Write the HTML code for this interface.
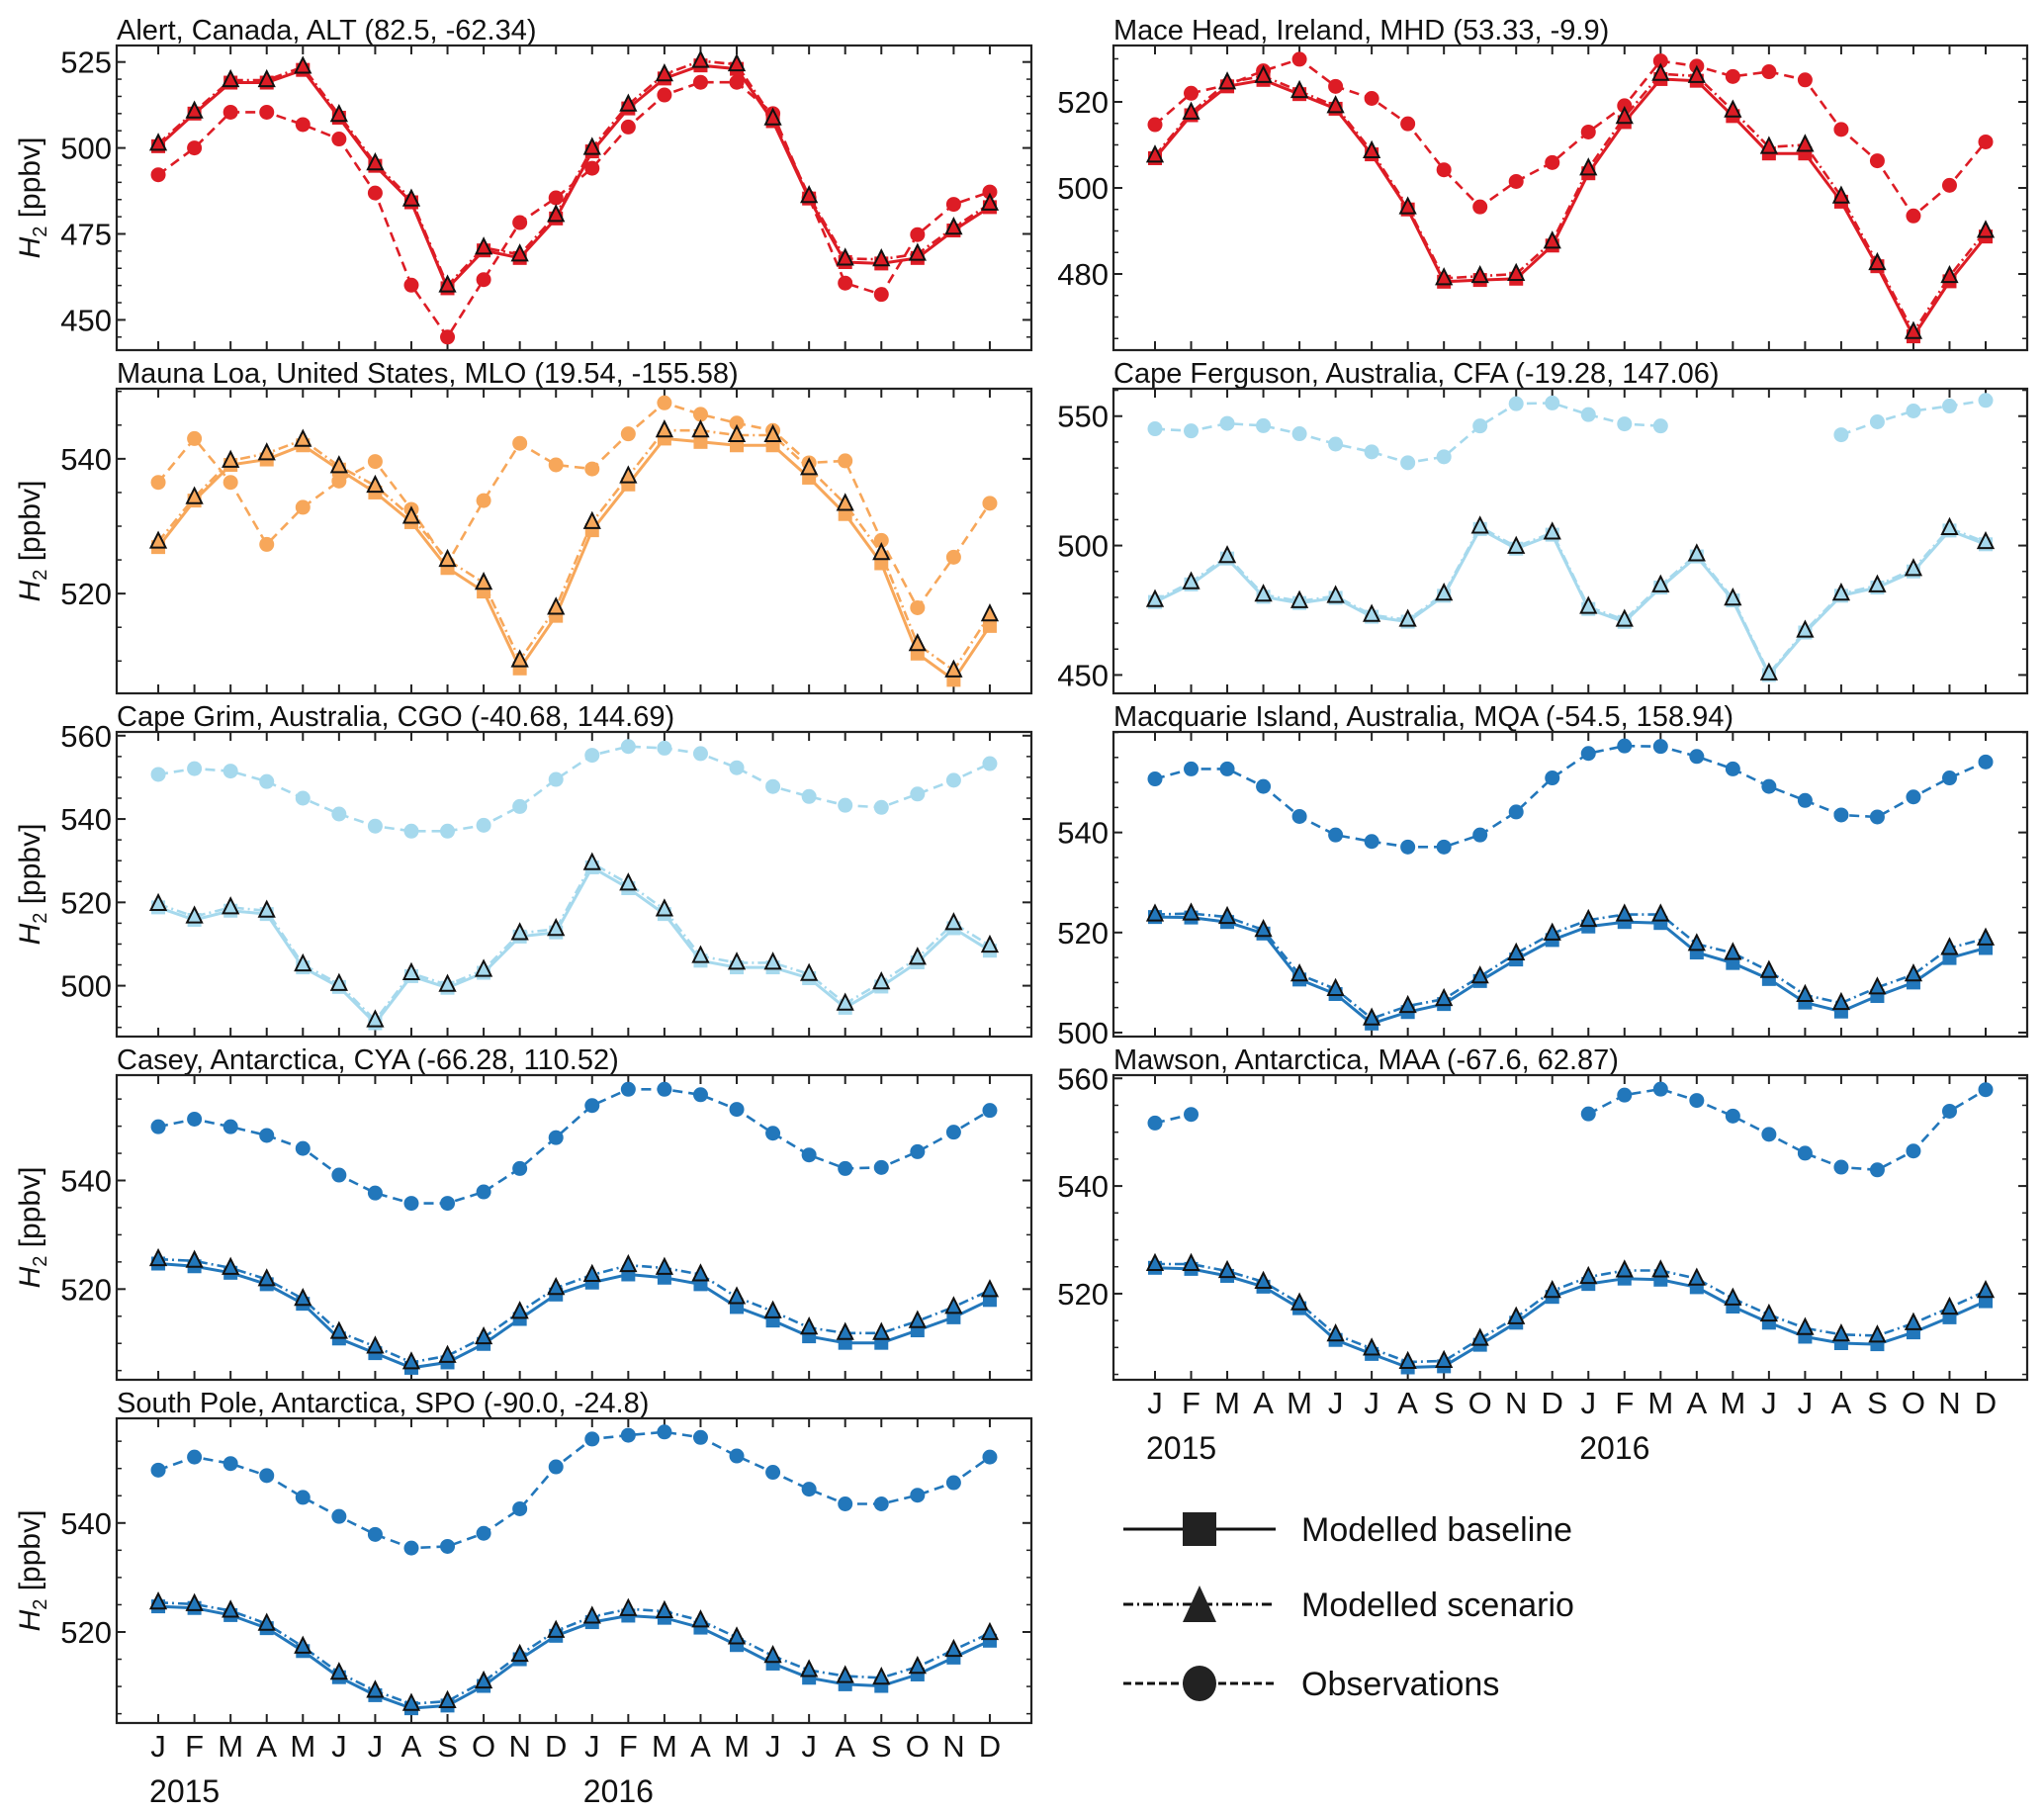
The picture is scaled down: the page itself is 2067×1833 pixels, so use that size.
<!DOCTYPE html>
<html><head><meta charset="utf-8">
<style>
html,body{margin:0;padding:0;background:#fff;}
svg{display:block;font-family:"Liberation Sans",sans-serif;}
</style></head>
<body>
<svg id="fig" width="2067" height="1833" viewBox="0 0 2067 1833" xmlns="http://www.w3.org/2000/svg"></svg>
<script>
const months = ["J","F","M","A","M","J","J","A","S","O","N","D","J","F","M","A","M","J","J","A","S","O","N","D"];
const years = ["2015","2016"];
const N = null;

const altObs = [492.2,500,510.4,510.4,506.8,502.6,486.9,460.1,445,461.7,478.3,485.5,494.1,506.1,515.4,519.1,519.1,510,485.5,460.7,457.4,474.8,483.6,487.2];
const altBase = [500.5,510,519,519,522.7,508.8,494.8,484.2,459.2,470.2,468,479.5,499,511.5,520.2,524,523,507.8,485.3,466.8,466.4,468,476,482.8];
const altScen = [501.2,510.6,519.7,519.7,523.6,509.6,495.5,485,460,471,469,480.5,500,512.6,521.4,525.3,524.3,508.6,486,467.8,467.6,469.2,476.8,483.8];

const mhdObs = [514.7,522,523.9,527.2,529.9,523.6,520.8,514.9,504.2,495.6,501.5,505.9,513,519.1,529.5,528.3,525.9,527,525.1,513.6,506.3,493.5,500.6,510.7];
const mhdBase = [506.9,516.9,523.6,525.1,521.8,518.4,507.8,495,478.2,478.6,478.9,486.6,503.4,515.3,525.3,524.9,516.7,508,508,496.8,481.8,465.5,478.3,488.7];
const mhdScen = [507.5,517.5,524.5,526,522.5,519,508.5,495.5,479,479.5,480,487.5,504.5,516.5,526.5,526,518,509.5,510,498,482.5,466.5,479.5,490];

const mloObs = [536.5,543,536.5,527.3,532.8,536.7,539.6,532.5,524.5,533.8,542.3,539.1,538.5,543.7,548.3,546.6,545.3,544.2,539.4,539.7,527.9,517.9,525.4,533.4];
const mloBase = [526.9,533.8,539.1,539.9,542,538.4,535,530.6,523.8,520.3,508.9,516.7,529.4,536.2,543,542.5,542,542,537.2,531.8,524.5,511.1,507.2,515.2];
const mloScen = [527.7,534.3,539.7,540.8,542.8,538.9,536,531.4,525,521.6,510.1,517.9,530.6,537.4,544.2,544.2,543.5,543.5,538.6,533.3,526,512.5,508.6,516.9];

const cfaObs = [545.1,544.3,547.2,546.3,543.2,539.2,536.2,532,534.3,546.2,554.8,555.1,550.6,547,546.2,N,N,N,N,542.8,547.8,552,553.9,556.1];
const cfaBase = [478.2,485,495,480.2,477.8,479.8,472.5,470.6,480.6,506.4,498.8,504.2,475.5,470.5,483.8,495.8,478.8,450,466.4,480.6,483.8,490,505.8,500.5];
const cfaScen = [478.9,485.8,495.9,481,478.5,480.5,473.2,471.3,481.4,507.3,499.5,505,476.3,471.3,484.6,496.6,479.5,450.6,467.1,481.4,484.6,490.9,506.7,501.3];

const cgoObs = [550.7,552.1,551.5,549,545,541.2,538.3,537.1,537.1,538.5,543,549.5,555.3,557.4,557,555.7,552.3,547.8,545.4,543.3,542.8,546,549.3,553.3];
const cgoBase = [518.8,515.8,518,517.2,504.4,499.7,491,502.3,499.5,503.1,511.8,512.8,528.4,523.4,517.2,506,504.4,504.4,501.8,494.7,499.8,505.6,513.8,508.4];
const cgoScen = [519.6,516.6,518.8,518,505.1,500.4,491.7,503,500.2,503.8,512.6,513.6,529.4,524.5,518.3,507.1,505.5,505.5,502.8,495.7,500.8,506.7,515,509.6];

const mqaObs = [550.7,552.7,552.7,549.2,543.2,539.5,538.2,537.1,537.1,539.5,544.1,550.9,555.8,557.3,557.2,555.2,552.7,549.2,546.4,543.5,543.1,547.1,550.9,554.1];
const mqaBase = [523.1,523,522.1,519.8,510.6,507.7,501.8,504.1,505.7,510.3,514.6,518.5,521.2,522.1,521.9,516,513.9,510.7,506,504.2,507.3,510,514.9,516.9];
const mqaScen = [523.6,523.8,523.1,520.5,511.6,508.7,502.8,505.3,506.7,511.2,515.8,519.8,522.5,523.6,523.6,517.7,515.9,512.3,507.5,505.9,509,511.6,516.9,518.8];

const cyaObs = [549.9,551.3,549.9,548.3,545.9,541,537.7,535.8,535.8,537.9,542.2,547.9,553.8,556.8,556.8,555.8,553.1,548.7,544.7,542.2,542.4,545.3,548.9,552.9];
const cyaBase = [524.7,524.2,523,520.9,517.3,510.9,508.2,505.5,506.5,509.9,514.5,519,521.2,522.7,522.1,520.9,516.7,514.2,511.3,510.1,510.1,512.4,514.8,518];
const cyaScen = [525.5,525.2,523.9,521.8,518.2,512.1,509.4,506.5,507.7,511.1,515.8,520.2,522.6,524.4,523.9,522.7,518.5,515.9,512.9,511.9,511.9,514.1,516.7,519.8];

const maaObs = [551.7,553.3,N,N,N,N,N,N,N,N,N,N,553.4,556.9,558,555.9,553,549.6,546.1,543.5,543,546.5,553.9,557.9];
const maaBase = [524.8,524.6,523.3,521.3,517.3,511.4,508.8,506.3,506.5,510.5,514.6,519.4,521.8,522.8,522.6,521.2,517.6,514.6,512,510.8,510.6,512.8,515.6,518.6];
const maaScen = [525.5,525.5,524.2,522.2,518.2,512.4,509.8,507.3,507.5,511.6,515.6,520.5,523.1,524.3,524.3,522.8,519.1,516.1,513.6,512.4,512.2,514.5,517.4,520.5];

const spoObs = [549.7,552.1,550.9,548.7,544.7,541.2,537.9,535.4,535.7,538.1,542.6,550.3,555.4,556.1,556.7,555.7,552.3,549.3,546.2,543.5,543.5,545.1,547.4,552.1];
const spoBase = [524.7,524.4,523.1,520.7,516.5,511.7,508.4,506,506.5,510.1,515,519.3,521.8,523,522.6,520.8,517.6,514.2,511.6,510.4,510.1,512.2,515.3,518.4];
const spoScen = [525.4,525.1,523.9,521.5,517.3,512.5,509.2,506.8,507.3,510.9,515.8,520.2,522.8,524.2,523.8,522.1,519,515.6,513,511.9,511.6,513.6,516.7,519.8];

const svg = document.getElementById('fig');
const NS = "http://www.w3.org/2000/svg";
function mk(tag, attrs, parent){
  const e = document.createElementNS(NS, tag);
  for (const k in attrs) e.setAttribute(k, attrs[k]);
  (parent||svg).appendChild(e);
  return e;
}

const RED="#dd1c25", ORA="#f7a75a", LB="#a6d9ed", BL="#2277bb";
const colX = [118, 1126], colW = [925, 924];
const rowTop = [46, 393, 740, 1087, 1434], panH = 308;

const panels = [
 {key:"alt", title:"Alert, Canada, ALT (82.5, -62.34)", c:0, r:0, lo:441.2, hi:529.8, ticks:[450,475,500,525], minor:5, col:RED, obs:altObs, base:altBase, scen:altScen},
 {key:"mhd", title:"Mace Head, Ireland, MHD (53.33, -9.9)", c:1, r:0, lo:462.3, hi:533.1, ticks:[480,500,520], minor:5, col:RED, obs:mhdObs, base:mhdBase, scen:mhdScen},
 {key:"mlo", title:"Mauna Loa, United States, MLO (19.54, -155.58)", c:0, r:1, lo:505.2, hi:550.4, ticks:[520,540], minor:5, col:ORA, obs:mloObs, base:mloBase, scen:mloScen},
 {key:"cfa", title:"Cape Ferguson, Australia, CFA (-19.28, 147.06)", c:1, r:1, lo:442.9, hi:560.6, ticks:[450,500,550], minor:10, col:LB, obs:cfaObs, base:cfaBase, scen:cfaScen},
 {key:"cgo", title:"Cape Grim, Australia, CGO (-40.68, 144.69)", c:0, r:2, lo:487.8, hi:560.9, ticks:[500,520,540,560], minor:5, col:LB, obs:cgoObs, base:cgoBase, scen:cgoScen},
 {key:"mqa", title:"Macquarie Island, Australia, MQA (-54.5, 158.94)", c:1, r:2, lo:499.2, hi:560.1, ticks:[500,520,540], minor:5, col:BL, obs:mqaObs, base:mqaBase, scen:mqaScen},
 {key:"cya", title:"Casey, Antarctica, CYA (-66.28, 110.52)", c:0, r:3, lo:503.3, hi:559.4, ticks:[520,540], minor:5, col:BL, obs:cyaObs, base:cyaBase, scen:cyaScen},
 {key:"maa", title:"Mawson, Antarctica, MAA (-67.6, 62.87)", c:1, r:3, lo:504, hi:560.6, ticks:[520,540,560], minor:5, col:BL, obs:maaObs, base:maaBase, scen:maaScen, xlab:true},
 {key:"spo", title:"South Pole, Antarctica, SPO (-90.0, -24.8)", c:0, r:4, lo:503.3, hi:559.2, ticks:[520,540], minor:5, col:BL, obs:spoObs, base:spoBase, scen:spoScen, xlab:true}
];

function pathFrom(vals, xf, yf){
  let d="", pen=false;
  vals.forEach((v,i)=>{
    if (v===null){pen=false;return;}
    d += (pen?"L":"M") + xf(i).toFixed(1) + " " + yf(v).toFixed(1) + " ";
    pen=true;
  });
  return d;
}

panels.forEach(p=>{
  const x0 = colX[p.c], w = colW[p.c], y0 = rowTop[p.r], h = panH;
  const xf = i => x0 + w*(i+1.15)/25.3;
  const yf = v => y0 + h*(p.hi - v)/(p.hi - p.lo);
  const g = mk('g', {});
  
  

  const t = mk('text', {x:x0, y:y0-6, 'font-size':29, fill:'#111'}, g);
  t.textContent = p.title;
  
  

  const clip = mk('clipPath', {id:'clip-'+p.key}, g);
  mk('rect', {x:x0, y:y0, width:w, height:h}, clip);

  months.forEach((m,i)=>{
    const xx = xf(i);
    mk('line', {x1:xx, x2:xx, y1:y0+h, y2:y0+h-9, stroke:'#222','stroke-width':2}, g);
    mk('line', {x1:xx, x2:xx, y1:y0, y2:y0+9, stroke:'#222','stroke-width':2}, g);
    if (p.xlab){
      const tl = mk('text', {x:xx, y:y0+h+34, 'font-size':31, 'text-anchor':'middle', fill:'#111'}, g);
      tl.textContent = m;
      
      
    }
  });
  if (p.xlab){
    years.forEach((yr,k)=>{
      const yl = mk('text', {x:xf(k*12)-9, y:y0+h+80, 'font-size':32, fill:'#111'}, g);
      yl.textContent = yr;
      
      
    });
  }
  for (let v = Math.ceil(p.lo/p.minor)*p.minor; v <= p.hi; v += p.minor){
    const yy = yf(v);
    mk('line', {x1:x0, x2:x0+5, y1:yy, y2:yy, stroke:'#222','stroke-width':1.5}, g);
    mk('line', {x1:x0+w, x2:x0+w-5, y1:yy, y2:yy, stroke:'#222','stroke-width':1.5}, g);
  }
  p.ticks.forEach(v=>{
    const yy = yf(v);
    mk('line', {x1:x0, x2:x0+9, y1:yy, y2:yy, stroke:'#222','stroke-width':2}, g);
    mk('line', {x1:x0+w, x2:x0+w-9, y1:yy, y2:yy, stroke:'#222','stroke-width':2}, g);
    const tl = mk('text', {x:x0-5, y:yy+11, 'font-size':31, 'text-anchor':'end', fill:'#111'}, g);
    tl.textContent = v;
    
    
  });
  if (p.c===0){
    const yl = mk('text', {transform:`translate(40,${y0+h/2}) rotate(-90)`, 'text-anchor':'middle', 'font-size':30, fill:'#111'}, g);
    yl.innerHTML = '<tspan font-style="italic">H</tspan><tspan font-size="20" dy="7">2</tspan><tspan dy="-7"> [ppbv]</tspan>';
    
    
  }

  const sg = mk('g', {'clip-path':'url(#clip-'+p.key+')'}, g);
  const ol = mk('path', {d:pathFrom(p.obs,xf,yf), fill:'none', stroke:p.col, 'stroke-width':2.6, 'stroke-dasharray':'10 6'}, sg);
  
  
  p.obs.forEach((v,i)=>{ if(v===null) return;
    const c = mk('circle', {cx:xf(i), cy:yf(v), r:7.5, fill:p.col}, sg);
    
    
  });
  const bl = mk('path', {d:pathFrom(p.base,xf,yf), fill:'none', stroke:p.col, 'stroke-width':3}, sg);
  
  
  p.base.forEach((v,i)=>{
    const s = mk('rect', {x:xf(i)-7, y:yf(v)-7, width:14, height:14, fill:p.col}, sg);
    
    
  });
  const sl = mk('path', {d:pathFrom(p.scen,xf,yf), fill:'none', stroke:p.col, 'stroke-width':2.6, 'stroke-dasharray':'10 4 2 4'}, sg);
  
  
  p.scen.forEach((v,i)=>{
    const xx = xf(i), yy = yf(v);
    const tr = mk('polygon', {points:`${xx},${yy-9} ${xx-7.5},${yy+6} ${xx+7.5},${yy+6}`, fill:p.col, stroke:'#111', 'stroke-width':2}, sg);
    
    
  });
  const fr = mk('rect', {x:x0, y:y0, width:w, height:h, fill:'none', stroke:'#222', 'stroke-width':2.2}, g);
  
  
});

const legendItems = ["Modelled baseline","Modelled scenario","Observations"];
const legendY = [1546, 1622, 1702];
const lg = mk('g', {});


legendItems.forEach((lab,k)=>{
  const y = legendY[k];
  const dash = k===0 ? 'none' : (k===1 ? '10 4 2 4' : '8 4');
  mk('line', {x1:1136, x2:1290, y1:y, y2:y, stroke:'#111', 'stroke-width':3, 'stroke-dasharray':dash}, lg);
  if (k===0) mk('rect', {x:1196, y:y-17, width:34, height:34, fill:'#222'}, lg);
  if (k===1) mk('polygon', {points:`1213,${y-19} 1196,${y+18} 1230,${y+18}`, fill:'#222'}, lg);
  if (k===2) mk('ellipse', {cx:1213, cy:y, rx:17, ry:18, fill:'#222'}, lg);
  const t = mk('text', {x:1316, y:y+12, 'font-size':34, fill:'#111'}, lg);
  t.textContent = lab;
  
  
});
</script>
</body></html>
